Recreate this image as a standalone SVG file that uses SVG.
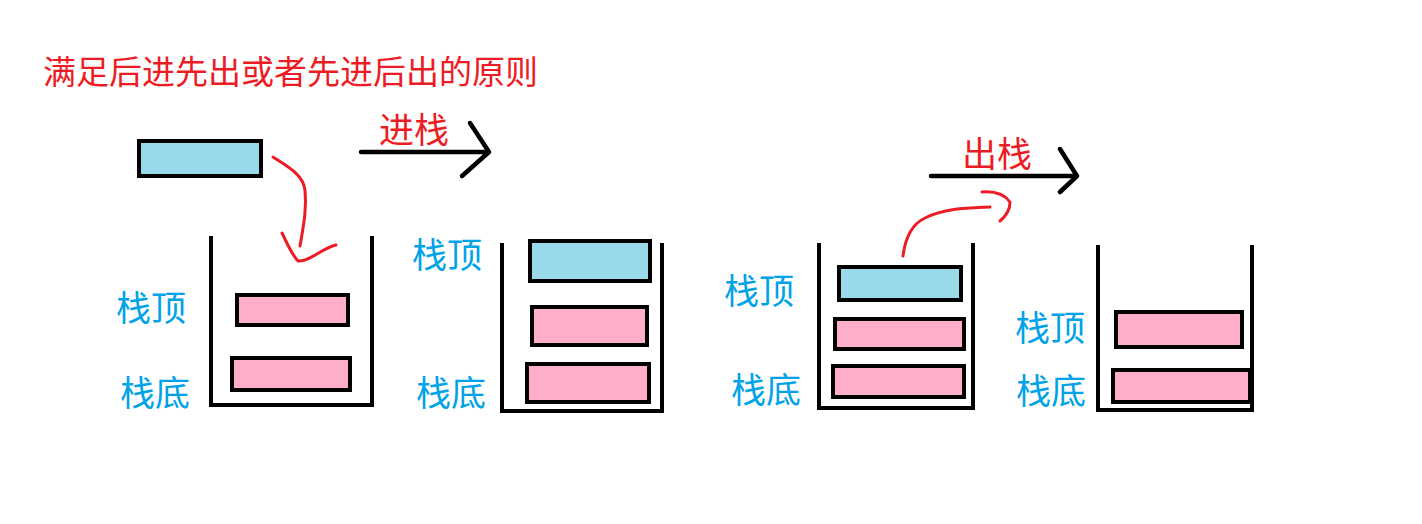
<svg xmlns="http://www.w3.org/2000/svg" width="1422" height="524" viewBox="0 0 1422 524">
<style>
.wall{fill:none;stroke:#000;stroke-width:4;stroke-linecap:square}
.blue{fill:#99d9ea;stroke:#000;stroke-width:4}
.pink{fill:#ffaec9;stroke:#000;stroke-width:4}
.lbl{font-family:"Noto Sans CJK SC","Noto Sans",sans-serif;font-size:35px;fill:#00a2e8;dominant-baseline:central}
.red{font-family:"Noto Sans CJK SC","Noto Sans",sans-serif;fill:#ed1c24;dominant-baseline:central}
.arrow{fill:none;stroke:#000;stroke-width:4.5;stroke-linecap:round;stroke-linejoin:round}
.curve{fill:none;stroke:#ed1c24;stroke-width:3;stroke-linecap:round;stroke-linejoin:round}
</style>
<rect width="1422" height="524" fill="#fff"/>
<text class="red" x="43" y="70" font-size="33">满足后进先出或者先进后出的原则</text>

<g id="item-incoming">
<rect class="blue" x="139" y="141" width="122" height="35"/>
</g>

<g id="stack1">
<path class="wall" d="M211,238 V405 H372 V238"/>
<rect class="pink" x="237" y="295" width="111" height="30"/>
<rect class="pink" x="232" y="358" width="118" height="32"/>
<text class="lbl" x="116" y="305">栈顶</text>
<text class="lbl" x="120" y="390">栈底</text>
</g>

<g id="stack2">
<path class="wall" d="M502,245 V411 H662 V245"/>
<rect class="blue" x="530" y="241" width="120" height="40"/>
<rect class="pink" x="532" y="307" width="115" height="38"/>
<rect class="pink" x="527" y="364" width="122" height="38"/>
<text class="lbl" x="412" y="252">栈顶</text>
<text class="lbl" x="416" y="390">栈底</text>
</g>

<g id="stack3">
<path class="wall" d="M819,245 V408 H973 V245"/>
<rect class="blue" x="839" y="267" width="122" height="33"/>
<rect class="pink" x="835" y="319" width="129" height="30"/>
<rect class="pink" x="833" y="366" width="131" height="31"/>
<text class="lbl" x="724" y="288">栈顶</text>
<text class="lbl" x="731" y="387">栈底</text>
</g>

<g id="stack4">
<path class="wall" d="M1098,247 V410 H1252 V247"/>
<rect class="pink" x="1116" y="312" width="126" height="35"/>
<rect class="pink" x="1113" y="370" width="137" height="32"/>
<text class="lbl" x="1015" y="325">栈顶</text>
<text class="lbl" x="1016" y="388">栈底</text>
</g>

<g id="connectors">
<path class="arrow" d="M361,152 H489 M470,123 L489,152 L462,176"/>
<text class="red" x="379" y="127" font-size="35">进栈</text>
<path class="arrow" d="M931,176 H1077 M1060,149 L1077,176 L1060,192"/>
<text class="red" x="962" y="151" font-size="35">出栈</text>
<path class="curve" d="M273,157 C290,168 303,175 305,190 C307,210 303,228 300,246"/>
<path class="curve" d="M282,233 C288,245 292,255 298,261 C310,262 322,248 336,245"/>
<path class="curve" d="M903,256 C905,240 910,225 925,218 C945,208 968,208 990,207"/>
<path class="curve" d="M982,192 C995,191 1005,195 1010,202 C1010,210 1006,216 1000,221"/>
</g>
</svg>
